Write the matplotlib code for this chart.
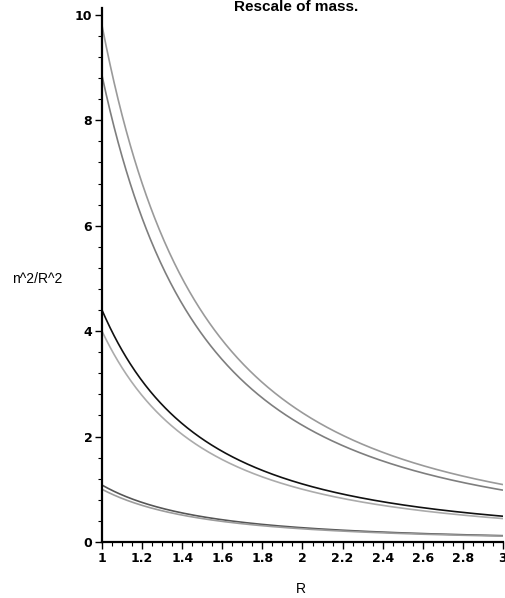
import numpy as np
import matplotlib
matplotlib.use("Agg")
import matplotlib.pyplot as plt
from matplotlib.ticker import MultipleLocator, FuncFormatter

plt.rcParams['font.family'] = ['Liberation Sans', 'DejaVu Sans']

# Values at R = 1 of each curve n^2/R^2
coeffs = [9.8, 8.85, 4.4, 4.0, 1.08, 1.0]
colors = ['#9a9a9a', '#7e7e7e', '#111111', '#ababab', '#555555', '#9c9c9c']
R = np.linspace(1, 3, 400)

fig = plt.figure(figsize=(5.06, 5.98), dpi=100)
ax = fig.add_axes([102/506, 1-542/598, (503-102)/506, (542-8)/598])

for c, col in zip(coeffs, colors):
    ax.plot(R, c / R**2, color=col, lw=1.2, solid_capstyle='butt')

ax.set_xlim(1, 3)
ax.set_ylim(0, 10.13)
for s in ['top', 'right']:
    ax.spines[s].set_visible(False)
for s in ['left', 'bottom']:
    ax.spines[s].set_linewidth(1.6)
    ax.spines[s].set_color('black')

ax.xaxis.set_major_locator(MultipleLocator(0.2))
ax.xaxis.set_minor_locator(MultipleLocator(0.05))
ax.yaxis.set_major_locator(MultipleLocator(2))
ax.yaxis.set_minor_locator(MultipleLocator(0.4))
ax.xaxis.set_major_formatter(FuncFormatter(lambda v, p: '%g' % round(v, 2)))
ax.yaxis.set_major_formatter(FuncFormatter(lambda v, p: '%g' % round(v, 2)))
ax.tick_params(axis='both', which='major', length=5, width=1.0, labelsize=9, pad=2)
ax.tick_params(axis='both', which='minor', length=3, width=0.8)
for lab in ax.get_xticklabels() + ax.get_yticklabels():
    lab.set_fontweight('bold')
    lab.set_family('DejaVu Sans')

fig.text(296/506, 1.0, 'Rescale of mass.', ha='center', va='top',
         fontsize=11, fontweight='bold')
fig.text(12/506, 1-279/598, 'n^2/R^2', ha='left', va='center', fontsize=10)
fig.text(301/506, 1-589/598, 'R', ha='center', va='center', fontsize=10)

fig.savefig('out.png', dpi=100)
